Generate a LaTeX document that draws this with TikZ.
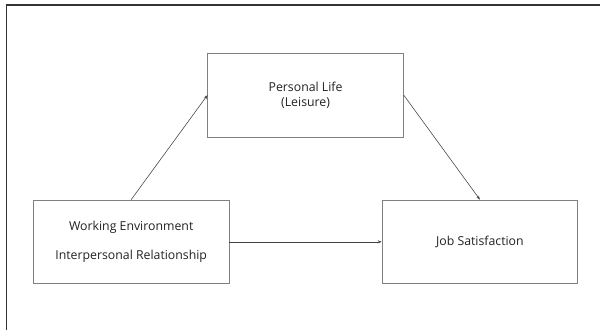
\documentclass[tikz,border=0pt]{standalone}
\usepackage{fontspec}
\setmainfont{Open Sans}
\usetikzlibrary{arrows.meta}
\definecolor{boxline}{HTML}{808080}
\definecolor{arrowline}{HTML}{404040}
\definecolor{frameline}{HTML}{333333}
\definecolor{txt}{HTML}{222222}
\tikzset{
  factor/.style={draw=boxline, line width=0.9pt, minimum width=195.5pt,
    minimum height=83.5pt, inner sep=0pt, align=center, text=txt,
    font=\fontsize{12.3pt}{14.4pt}\selectfont},
  link/.style={draw=arrowline, line width=0.55pt,
    -{Stealth[length=4pt,width=3pt]}},
}
\begin{document}
\begin{tikzpicture}[x=1pt,y=-1pt]
  \useasboundingbox (0,0) rectangle (600,330);
  \fill[white] (0,0) rectangle (600,330);
  % open frame: top and left edges only
  \draw[frameline, line width=1.3pt] (6.3,330) -- (6.3,5) -- (600,5);

  \node[factor] (life) at (305.6,95.2) {Personal Life\\(Leisure)};
  \node[factor, font=\fontsize{12.3pt}{29pt}\selectfont] (work) at (131.2,241.8)
    {Working Environment\\Interpersonal Relationship};
  \node[factor] (job) at (479.9,241.8) {Job Satisfaction};

  \draw[link] (work.north) -- (life.west);
  \draw[link] (life.east) -- (job.north);
  \draw[link] (work.east) -- (job.west);
\end{tikzpicture}
\end{document}
